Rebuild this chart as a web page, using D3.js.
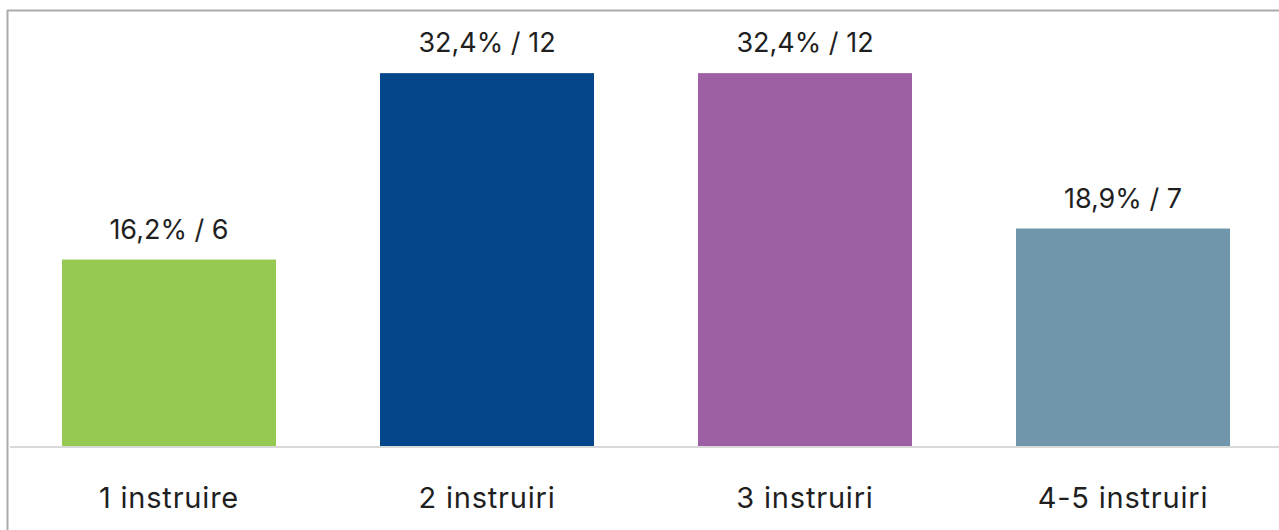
<!DOCTYPE html>
<html>
<head>
<meta charset="utf-8">
<script src="https://cdn.jsdelivr.net/npm/d3@7/dist/d3.min.js"></script>
<style>
  html, body { margin: 0; padding: 0; background: #fff; }
  svg { display: block; }
  text { font-family: Inter, "Open Sans", sans-serif; fill: #1f1f1f; }
</style>
</head>
<body>
<svg id="chart" width="1279" height="530"></svg>
<script>
// Number of training sessions attended
const categories = ["1 instruire", "2 instruiri", "3 instruiri", "4-5 instruiri"];
const counts = [6, 12, 12, 7];
const percents = ["16,2%", "32,4%", "32,4%", "18,9%"];
const colors = ["#95c951", "#03478a", "#9d60a5", "#7096ab"];

const svg = d3.select("#chart");
const W = 1279, H = 530;
const plot = { left: 10, right: 1282, top: 11, bottom: 446 };

const x = d3.scaleBand()
  .domain(categories)
  .range([plot.left, plot.right])
  .paddingInner(0.327)
  .paddingOuter(0.1635);

const y = d3.scaleLinear()
  .domain([0, 14])
  .range([plot.bottom, plot.top]);

// frame: top and left edges
svg.append("line")
  .attr("x1", 7).attr("x2", W).attr("y1", 10.5).attr("y2", 10.5)
  .attr("stroke", "#ababab").attr("stroke-width", 2);
svg.append("line")
  .attr("x1", 7.5).attr("x2", 7.5).attr("y1", 10).attr("y2", H)
  .attr("stroke", "#ababab").attr("stroke-width", 2);

// bars
svg.selectAll("rect.bar")
  .data(counts)
  .join("rect")
  .attr("class", "bar")
  .attr("x", (d, i) => x(categories[i]))
  .attr("width", x.bandwidth())
  .attr("y", d => y(d))
  .attr("height", d => y(0) - y(d))
  .attr("fill", (d, i) => colors[i]);

// baseline axis
const axis = svg.append("g")
  .attr("transform", `translate(0,${plot.bottom + 1})`)
  .call(d3.axisBottom(x).tickSize(0).tickPadding(0));
axis.select(".domain").attr("stroke", "#d9d9d9").attr("stroke-width", 2)
  .attr("d", `M${plot.left},0H${W}`);
axis.selectAll(".tick text")
  .attr("y", 61)
  .attr("dy", 0)
  .style("font-family", "Inter, 'Open Sans', sans-serif")
  .style("font-size", "29px")
  .style("letter-spacing", "0.8px")
  .attr("fill", "#1f1f1f");

// value labels
svg.selectAll("text.value")
  .data(counts)
  .join("text")
  .attr("class", "value")
  .attr("x", (d, i) => x(categories[i]) + x.bandwidth() / 2)
  .attr("y", d => y(d) - 21)
  .attr("text-anchor", "middle")
  .style("font-size", "27px")
  .text((d, i) => `${percents[i]} / ${d}`);
</script>
</body>
</html>
